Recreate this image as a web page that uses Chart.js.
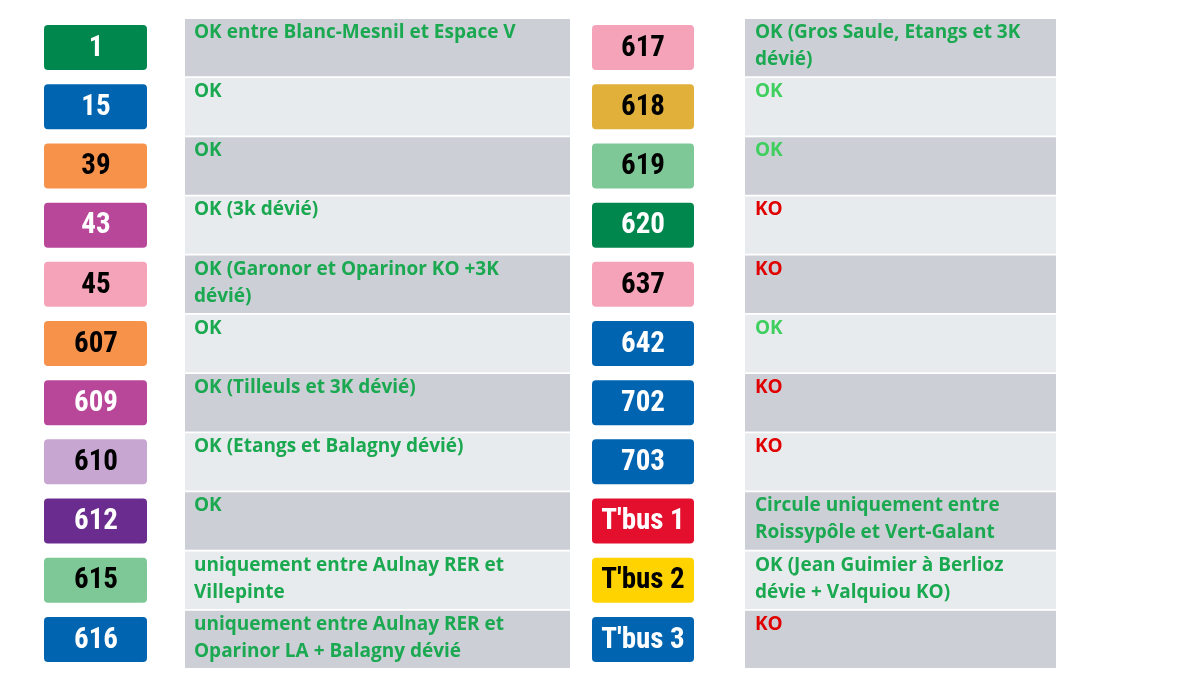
<!DOCTYPE html>
<html><head><meta charset="utf-8">
<script src="https://cdn.jsdelivr.net/npm/chart.js@4"></script>
<style>html,body{margin:0;background:#fff}#c{display:block}</style>
</head><body>
<div style="width:1200px;height:675px"><canvas id="c"></canvas></div>
<script>
// Left column
const leftLines = ['1','15','39','43','45','607','609','610','612','615','616'];
const leftColors = ['#00874e','#0064b0','#f7924b','#b8479a','#f5a3b9','#f7924b','#b8479a','#c8a6d2','#6a2d8f','#7dc896','#0064b0'];
const leftInk = ['#fff','#fff','#000','#fff','#000','#000','#fff','#000','#fff','#000','#fff'];
const leftStatus = [
  'OK entre Blanc-Mesnil et Espace V', 'OK', 'OK', 'OK (3k dévié)',
  'OK (Garonor et Oparinor KO +3K\ndévié)', 'OK', 'OK (Tilleuls et 3K dévié)',
  'OK (Etangs et Balagny dévié)', 'OK', 'uniquement entre Aulnay RER et\nVillepinte',
  'uniquement entre Aulnay RER et\nOparinor LA + Balagny dévié'];
// Right column
const rightLines = ['617','618','619','620','637','642','702','703',"T'bus 1","T'bus 2","T'bus 3"];
const rightColors = ['#f5a3b9','#e0b03b','#7dc896','#00874e','#f5a3b9','#0064b0','#0064b0','#0064b0','#e30f2d','#ffd300','#0064b0'];
const rightInk = ['#000','#000','#000','#fff','#000','#fff','#fff','#fff','#fff','#000','#fff'];
const rightStatus = [
  'OK (Gros Saule, Etangs et 3K\ndévié)', 'OK', 'OK', 'KO', 'KO', 'OK', 'KO', 'KO',
  'Circule uniquement entre\nRoissypôle et Vert-Galant',
  'OK (Jean Guimier à Berlioz\ndévie + Valquiou KO)', 'KO'];

const rows = leftLines.map((_, i) => String(i));
const stripe = rows.map((_, i) => i % 2 ? '#e8ebee' : '#ccd0d6');
const span = (a, b) => rows.map(() => [a, b]);

function textColor(s, side) {
  if (s.startsWith('KO')) return '#e00000';
  if (side === 'r' && (s === 'OK')) return '#3ecf5e';
  return '#1aa850';
}

const labelPlugin = {
  id: 'labels',
  afterDatasetsDraw(chart) {
    const ctx = chart.ctx, y = chart.scales.y, x = chart.scales.x;
    const h = y.getPixelForValue(1) - y.getPixelForValue(0);
    ctx.save();
    rows.forEach((r, i) => {
      const cy = y.getPixelForValue(i);
      ctx.textAlign = 'center'; ctx.textBaseline = 'middle';
      ctx.font = 'bold 29px "Roboto Condensed", Roboto, sans-serif';
      ctx.fillStyle = leftInk[i];
      ctx.fillText(leftLines[i], x.getPixelForValue(96), cy + 1);
      ctx.fillStyle = rightInk[i];
      ctx.fillText(rightLines[i], x.getPixelForValue(643), cy + 1);
      ctx.textAlign = 'left'; ctx.textBaseline = 'top';
      ctx.font = 'bold 19px "Open Sans", sans-serif';
      [[leftStatus[i], 194, 'l'], [rightStatus[i], 755, 'r']].forEach(([s, px, side]) => {
        ctx.fillStyle = textColor(s, side);
        s.split('\n').forEach((ln, k) => ctx.fillText(ln, x.getPixelForValue(px), cy - h / 2 + 5 + k * 27));
      });
    });
    ctx.restore();
  }
};

new Chart(document.getElementById('c'), {
  type: 'bar',
  data: {
    labels: rows,
    datasets: [
      { data: span(185, 570), backgroundColor: stripe, barPercentage: 1, categoryPercentage: 0.97, grouped: false },
      { data: span(745, 1056), backgroundColor: stripe, barPercentage: 1, categoryPercentage: 0.97, grouped: false },
      { data: span(44, 147), backgroundColor: leftColors, barPercentage: 0.76, categoryPercentage: 1, borderRadius: 4, borderSkipped: false, grouped: false },
      { data: span(592, 694), backgroundColor: rightColors, barPercentage: 0.76, categoryPercentage: 1, borderRadius: 4, borderSkipped: false, grouped: false }
    ]
  },
  options: {
    indexAxis: 'y', responsive: true, maintainAspectRatio: false, animation: false,
    layout: { padding: { top: 18, bottom: 6, left: 0, right: 0 } },
    scales: {
      x: { type: 'linear', min: 0, max: 1200, display: false },
      y: { display: false, offset: true }
    },
    plugins: { legend: { display: false }, tooltip: { enabled: false } }
  },
  plugins: [labelPlugin]
});
</script>
</body></html>
